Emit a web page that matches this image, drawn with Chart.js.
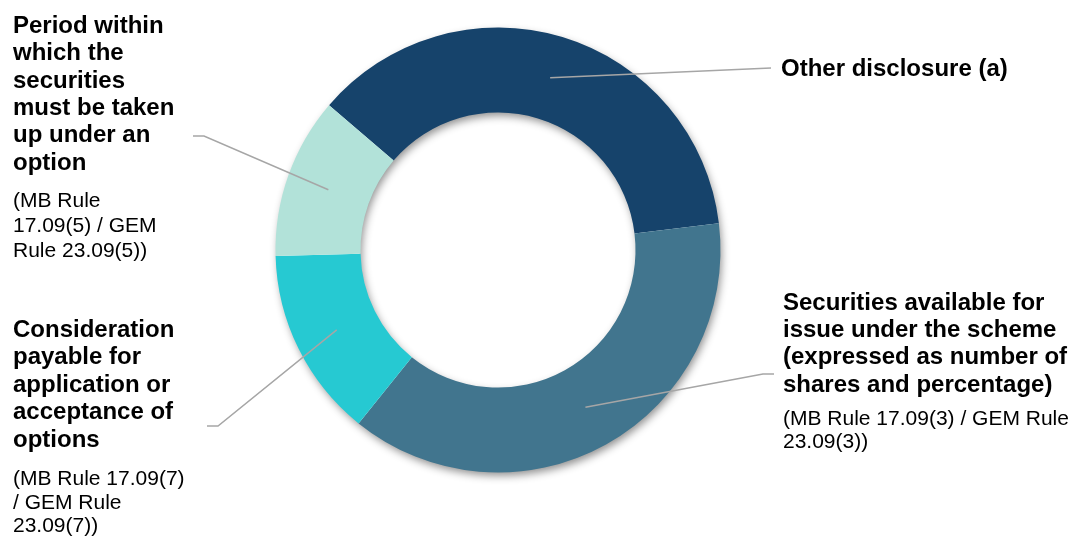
<!DOCTYPE html>
<html>
<head>
<meta charset="utf-8">
<script src="https://cdn.jsdelivr.net/npm/chart.js@4/dist/chart.umd.min.js"></script>
<style>
    html, body { margin: 0; padding: 0; background: #ffffff; }
    #wrap { position: relative; width: 1075px; height: 537px; }
</style>
</head>
<body>
<div id="wrap"><canvas id="donutChart" width="1075" height="537"></canvas></div>
<script>
// Data
const categories = [
    'Other disclosure (a)',
    'Securities available for issue under the scheme',
    'Consideration payable for application or acceptance of options',
    'Period within which the securities must be taken up under an option'
];
const shares = [36.8, 37.7, 13.8, 11.7];
const titleLines = [
    ['Other disclosure (a)'],
    ['Securities available for', 'issue under the scheme', '(expressed as number of', 'shares and percentage)'],
    ['Consideration', 'payable for', 'application or', 'acceptance of', 'options'],
    ['Period within', 'which the', 'securities', 'must be taken', 'up under an', 'option']
];
const ruleLines = [
    [],
    ['(MB Rule 17.09(3) / GEM Rule', '23.09(3))'],
    ['(MB Rule 17.09(7)', '/ GEM Rule', '23.09(7))'],
    ['(MB Rule', '17.09(5) / GEM', 'Rule 23.09(5))']
];
const colors = ['#16436B', '#41758E', '#26C9D2', '#B2E2D9'];

// Label layout (positions of text blocks and leader elbows)
const labelLayout = [
    { x: 781, y: 76, step: 27, ruleY: 0, ruleStep: 0, leader: [[771, 68]] },
    { x: 783, y: 310, step: 27.2, ruleY: 425, ruleStep: 23, leader: [[763, 374], [774, 374]] },
    { x: 13, y: 337, step: 27.4, ruleY: 485, ruleStep: 23.5, leader: [[218, 426], [207, 426]] },
    { x: 13, y: 33, step: 27.3, ruleY: 207, ruleStep: 25, leader: [[204, 136], [193, 136]] }
];

const FONT = "'Liberation Sans', Arial, sans-serif";

// Soft drop shadow under the ring
const ringShadow = {
    id: 'ringShadow',
    beforeDatasetsDraw(chart) {
        const arc = chart.getDatasetMeta(0).data[0];
        if (!arc) return;
        const ctx = chart.ctx;
        ctx.save();
        ctx.shadowColor = 'rgba(0, 0, 0, 0.45)';
        ctx.shadowBlur = 9;
        ctx.shadowOffsetX = 2;
        ctx.shadowOffsetY = 4;
        ctx.fillStyle = '#ffffff';
        ctx.beginPath();
        ctx.arc(arc.x, arc.y, arc.outerRadius - 1, 0, Math.PI * 2);
        ctx.arc(arc.x, arc.y, arc.innerRadius + 1, Math.PI * 2, 0, true);
        ctx.closePath();
        ctx.fill();
        ctx.restore();
    }
};

// Leader lines and text labels
const sideLabels = {
    id: 'sideLabels',
    afterDraw(chart) {
        const ctx = chart.ctx;
        const arcs = chart.getDatasetMeta(0).data;
        ctx.save();
        arcs.forEach((arc, i) => {
            const lay = labelLayout[i];
            const p = arc.tooltipPosition();
            ctx.strokeStyle = '#A6A6A6';
            ctx.lineWidth = 1.5;
            ctx.beginPath();
            ctx.moveTo(p.x, p.y);
            lay.leader.forEach(pt => ctx.lineTo(pt[0], pt[1]));
            ctx.stroke();

            ctx.fillStyle = '#000000';
            ctx.textAlign = 'left';
            ctx.textBaseline = 'alphabetic';
            ctx.font = 'bold 24px ' + FONT;
            titleLines[i].forEach((line, k) => {
                ctx.fillText(line, lay.x, lay.y + k * lay.step);
            });
            ctx.font = '21px ' + FONT;
            ruleLines[i].forEach((line, k) => {
                ctx.fillText(line, lay.x, lay.ruleY + k * lay.ruleStep);
            });
        });
        ctx.restore();
    }
};

new Chart(document.getElementById('donutChart'), {
    type: 'doughnut',
    data: {
        labels: categories,
        datasets: [{
            data: shares,
            backgroundColor: colors,
            borderWidth: 0,
            hoverOffset: 0
        }]
    },
    options: {
        responsive: false,
        animation: false,
        rotation: -49.4,
        cutout: '61.8%',
        layout: {
            padding: { left: 275.5, right: 354.5, top: 27.5, bottom: 64.5 }
        },
        plugins: {
            legend: { display: false },
            tooltip: { enabled: false }
        }
    },
    plugins: [ringShadow, sideLabels]
});
</script>
</body>
</html>
